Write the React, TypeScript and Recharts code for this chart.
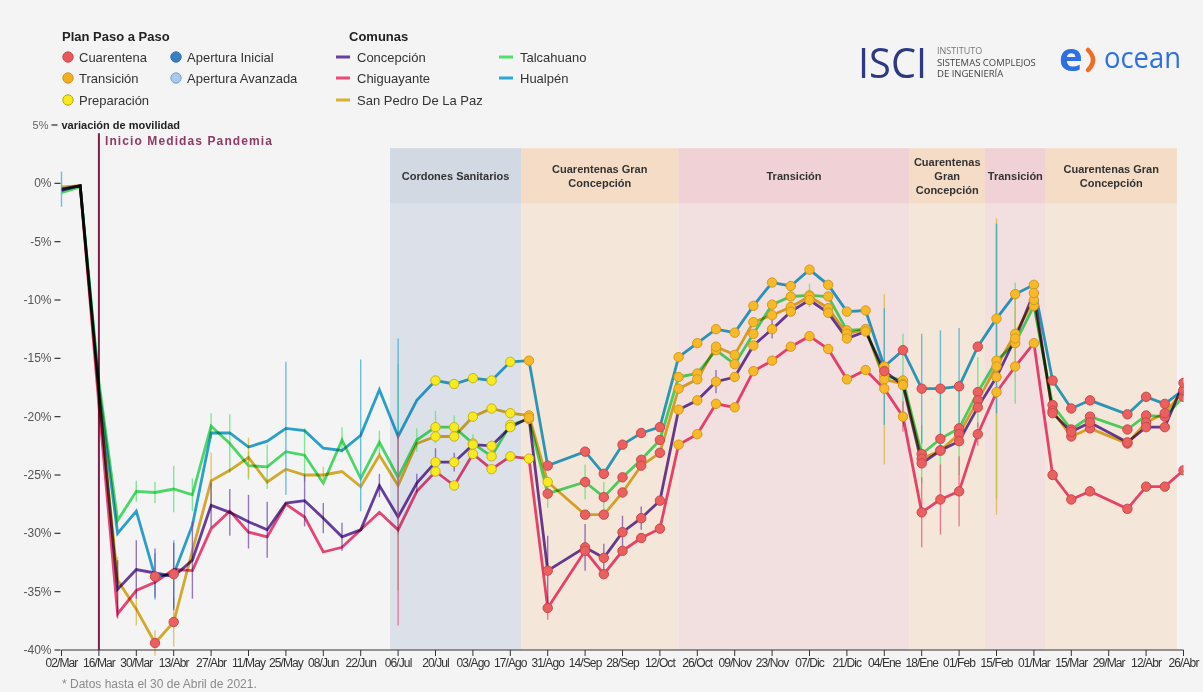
import React from "react";
import {
  ComposedChart,
  Line,
  XAxis,
  YAxis,
  ReferenceArea,
  ReferenceLine,
  ErrorBar,
} from "recharts";

const FONT = '"Liberation Sans", Arial, sans-serif';

// tick every two weeks, weekly data starting 02/Mar/2020 (day 0)
const tickLabels = [
  "02/Mar", "16/Mar", "30/Mar", "13/Abr", "27/Abr", "11/May", "25/May", "08/Jun",
  "22/Jun", "06/Jul", "20/Jul", "03/Ago", "17/Ago", "31/Ago", "14/Sep", "28/Sep",
  "12/Oct", "26/Oct", "09/Nov", "23/Nov", "07/Dic", "21/Dic", "04/Ene", "18/Ene",
  "01/Feb", "15/Feb", "01/Mar", "15/Mar", "29/Mar", "12/Abr", "26/Abr",
];
const yTicks = [5, 0, -5, -10, -15, -20, -25, -30, -35, -40];

// weekly mobility change (%) per comuna, null = week without data
const concepcion = [
  -0.6, -0.2, -18, -34.8, -33.1, -33.4, -33.7, -32.3, -27.6, -28.2, -29.0, -29.7, -27.4, -27.2, -28.7, -30.3, -29.7, -25.9,
  -28.6, -25.7, -23.9, -23.9, -22.4, -22.5, -20.9, -20.1,
  -33.2, null, -31.2, -32.1, -29.9, -28.7, -27.2,
  -19.4, -18.6, -17.0, -16.6, -13.9, -12.5, -11.0, -10.0, -11.1, -13.3, -12.7, -16.1, -17.3,
  -24.0, -22.9, -22.1, -19.2, -16.6, -13.3, -9.4, -19.7, -21.3, -20.5, null, -22.2, -20.9, -20.9, -17.1,
];
const chiguayante = [
  -0.5, -0.2, -19, -36.9, -34.9, -34.2, -33.1, -33.2, -29.6, -28.1, -29.9, -30.3, -27.5, -28.6, -31.6, -31.2, -29.7, -28.2,
  -29.7, -26.4, -24.7, -25.9, -23.2, -24.5, -23.4, -23.6,
  -36.4, null, -31.5, -33.5, -31.5, -30.4, -29.6,
  -22.4, -21.5, -18.9, -19.2, -16.1, -15.2, -14.0, -13.1, -14.2, -16.8, -16.0, -17.6, -20.0,
  -28.2, -27.1, -26.4, -21.5, -17.9, -15.7, -13.7, -25.0, -27.1, -26.4, null, -27.9, -26.0, -26.0, -24.6,
];
const sanPedro = [
  -0.3, -0.2, -18, -34.0, -36.5, -39.4, -37.6, -31.5, -25.5, -24.6, -23.5, -25.6, -24.5, -25.0, -25.0, -24.7, -26.0, -23.3,
  -25.9, -22.3, -21.7, -21.7, -20.0, -19.3, -19.7, -19.9,
  -25.6, null, -28.4, -28.4, -26.5, -24.2, -23.1,
  -17.6, -16.8, -14.0, -14.7, -11.9, -11.3, -10.6, -9.7, -10.7, -12.9, -12.5, -16.8, -17.2,
  -23.6, -22.9, -21.5, -18.6, -15.7, -12.9, -10.0, -19.5, -21.7, -21.0, null, -22.3, -20.5, -19.7, -17.8,
];
const talcahuano = [
  -0.8, -0.3, -17, -28.9, -26.4, -26.5, -26.2, -26.7, -20.8, -22.3, -24.2, -24.3, -23.0, -23.3, -25.7, -22.0, -25.3, -22.2,
  -25.2, -22.0, -20.9, -20.9, -22.3, -23.4, -20.7, -20.2,
  -26.6, null, -25.6, -26.9, -25.2, -23.7, -22.0,
  -16.6, -16.3, -14.3, -15.5, -12.9, -10.4, -9.7, -9.6, -9.7, -12.6, -12.5, -16.5, -16.9,
  -23.2, -21.9, -21.0, -17.9, -15.2, -13.7, -10.5, -19.0, -21.1, -20.0, null, -21.1, -19.9, -20.0, -18.3,
];
const hualpen = [
  -0.5, -0.2, -17.5, -30.0, -28.1, -33.7, -33.5, -29.3, -21.4, -21.4, -22.6, -22.1, -21.0, -21.2, -22.7, -22.9, -21.6, -17.7,
  -21.7, -18.6, -16.9, -17.2, -16.7, -16.9, -15.3, -15.2,
  -24.2, null, -23.0, -24.9, -22.4, -21.4, -20.9,
  -14.9, -13.7, -12.5, -12.8, -10.5, -8.5, -8.8, -7.4, -8.7, -11.0, -10.9, -15.7, -14.3,
  -17.6, -17.6, -17.4, -14.0, -11.6, -9.5, -8.7, -16.9, -19.3, -18.6, null, -19.8, -18.3, -18.9, -17.7,
];

// Plan Paso a Paso phase per week: c = cuarentena, t = transición, p = preparación
const faseConcepcion = "...................." + "ppppp" + "t" + "c" + "." + "ccccc" + "ttttttttttt" + "c" + "t" + "cccc" + "ttt" + "ccc" + "." + "cccc";
const faseChiguayante = "...................." + "pppppp" + "c" + "." + "ccccc" + "ttttttttttttt" + "cccc" + "ttt" + "ccc" + "." + "cccc";
const faseSanPedro = "....." + "cc" + "............." + "ppppp" + "t" + "p" + "." + "ccccc" + "ttttttttttttt" + "cccc" + "ttt" + "ccc" + "." + "cccc";
const faseTalcahuano = "...................." + "ppppp" + "t" + "c" + "." + "ccccc" + "ttttttttttttt" + "cccc" + "ttt" + "ccc" + "." + "cccc";
const faseHualpen = "....." + "cc" + "............." + "ppppp" + "t" + "c" + "." + "ccccc" + "tttttttttttt" + "c" + "cccc" + "ttt" + "ccc" + "." + "cccc";

// [week index, +/- error]
const errConcepcion = [[3, 2.5], [4, 2.5], [5, 2.1], [6, 2.9], [7, 3.3], [8, 1.9], [9, 2], [10, 2.3], [11, 2.4], [13, 2.2], [14, 1.3], [15, 1.2], [17, 1], [19, 0.8], [20, 1.2], [21, 0.8], [26, 3], [28, 2], [29, 1.2], [30, 1.4], [31, 1], [35, 1], [38, 0.8]];
const errChiguayante = [[18, 8.2], [26, 1], [45, 1.3], [46, 3], [47, 3], [48, 3], [49, 1]];
const errSanPedro = [[3, 2], [4, 1.4], [5, 1.1], [6, 2.1], [8, 2.4], [10, 1.7], [14, 0.7], [44, 7.3], [50, 12.7], [51, 3]];
const errTalcahuano = [[4, 0.9], [5, 0.9], [6, 2], [7, 1.4], [8, 1.1], [9, 2.5], [10, 1.2], [11, 1.9], [13, 2.3], [15, 1.1], [17, 1], [18, 9.7], [19, 1], [20, 1.4], [21, 1], [22, 0.8], [26, 1.2], [28, 1.5], [29, 1.3], [40, 1], [45, 4], [46, 2.5], [47, 4.5], [48, 4], [49, 3], [50, 11.8], [51, 5.2]];
const errHualpen = [[0, 1.5], [5, 2], [6, 2.9], [12, 5.7], [16, 6.5], [18, 8.4], [44, 5], [46, 4.7], [47, 5], [48, 5], [50, 8.1]];

// periods (days since 02/Mar/2020)
const bandFrom = [123, 172, 231, 317.4, 345.7, 368.4];
const bandTo = [172, 231, 317.4, 345.7, 368.4, 417.5];
const bandKind = ["cordon", "cuar", "trans", "cuar", "trans", "cuar"];
const bandText = [
  ["Cordones Sanitarios"],
  ["Cuarentenas Gran", "Concepción"],
  ["Transición"],
  ["Cuarentenas", "Gran", "Concepción"],
  ["Transición"],
  ["Cuarentenas Gran", "Concepción"],
];

const bandFill: Record<string, [string, string]> = {
  cordon: ["#DCE1E9", "#D2D9E3"],
  cuar: ["#F5E6DA", "#F5DCC7"],
  trans: ["#F2DFE0", "#F0D2D6"],
};

const phaseColor: Record<string, [string, string]> = {
  c: ["#EC5F5F", "#C94949"],
  t: ["#F7B927", "#D29A1A"],
  p: ["#F8EA1F", "#C4B31A"],
};

const series = [
  { key: "talc", name: "Talcahuano", values: talcahuano, fase: faseTalcahuano, err: errTalcahuano, color: "#4FE06C" },
  { key: "sp", name: "San Pedro De La Paz", values: sanPedro, fase: faseSanPedro, err: errSanPedro, color: "#DDB02E" },
  { key: "hual", name: "Hualpén", values: hualpen, fase: faseHualpen, err: errHualpen, color: "#2CA6D2" },
  { key: "conc", name: "Concepción", values: concepcion, fase: faseConcepcion, err: errConcepcion, color: "#6A3FA2" },
  { key: "chig", name: "Chiguayante", values: chiguayante, fase: faseChiguayante, err: errChiguayante, color: "#F0487A" },
];

const errAt = (list: number[][], i: number) => {
  const f = list.find((e) => e[0] === i);
  return f ? f[1] : 0;
};

const data = concepcion
  .map((_, i) => {
    const row: any = { i, d: i * 7 };
    series.forEach((s) => {
      row[s.key] = s.values[i];
      row[s.key + "E"] = errAt(s.err, i);
    });
    return row;
  })
  .filter((r) => r.conc !== null);

const makeDot = (fase: string, key: string) => (props: any) => {
  const { cx, cy, payload } = props;
  const k = `${key}-${payload.i}`;
  const c = phaseColor[fase[payload.i]];
  if (!c || cx == null || cy == null) return <g key={k} />;
  return <circle key={k} cx={cx} cy={cy} r={4.7} fill={c[0]} stroke={c[1]} strokeWidth={1} />;
};

// axis x position passed in as x (tickSize and tickMargin are 0)
const YTick = (props: any) => {
  const { x, y, payload } = props;
  const v = payload.value;
  if (v === 5) {
    return (
      <g>
        <text x={x - 13} y={y} dy={4} textAnchor="end" fontSize={11} fill="#666">5%</text>
        <line x1={x - 10} x2={x - 4} y1={y} y2={y} stroke="#222" strokeWidth={1.2} />
        <text x={x} y={y} dy={4} textAnchor="start" fontSize={11} fontWeight="bold" fill="#222">variación de movilidad</text>
      </g>
    );
  }
  return (
    <g>
      <text x={x - 10} y={y} dy={4} textAnchor="end" fontSize={12} fill="#555">{`${v}%`}</text>
      <line x1={x - 7} x2={x - 1} y1={y} y2={y} stroke="#333" strokeWidth={1.2} />
    </g>
  );
};

const bandLabel = (lines: string[]) => (p: any) => {
  const vb = p.viewBox;
  const cx = vb.x + vb.width / 2;
  const cy = vb.y + vb.height / 2;
  const start = cy - ((lines.length - 1) * 14) / 2;
  return (
    <text textAnchor="middle" fontSize={11} fontWeight="bold" fill="#333">
      {lines.map((l, j) => (
        <tspan key={j} x={cx} y={start + j * 14} dy={4}>{l}</tspan>
      ))}
    </text>
  );
};

const phaseLegend = [
  { label: "Cuarentena", fill: "#E9595B", stroke: "#D04A4C", x: 68, y: 57 },
  { label: "Transición", fill: "#F2AE22", stroke: "#D69618", x: 68, y: 78 },
  { label: "Preparación", fill: "#F6EA1C", stroke: "#B9A614", x: 68, y: 100 },
  { label: "Apertura Inicial", fill: "#3C7EC4", stroke: "#3170B2", x: 176, y: 57 },
  { label: "Apertura Avanzada", fill: "#A8C9EA", stroke: "#7DA3C9", x: 176, y: 78 },
];
const comunaLegend = [
  { label: "Concepción", color: "#6A3FA2", x: 336, y: 57 },
  { label: "Chiguayante", color: "#F0487A", x: 336, y: 78 },
  { label: "San Pedro De La Paz", color: "#DDB02E", x: 336, y: 100 },
  { label: "Talcahuano", color: "#4FE06C", x: 499, y: 57 },
  { label: "Hualpén", color: "#2CA6D2", x: 499, y: 78 },
];

export default function App() {
  return (
    <div style={{ position: "relative", width: 1203, height: 692, background: "#F4F4F4", fontFamily: FONT, overflow: "hidden" }}>
      <style>{`body{margin:0;background:#F4F4F4}.recharts-line-curve{mix-blend-mode:multiply}`}</style>
      <ComposedChart
        width={1203}
        height={692}
        data={data}
        margin={{ top: 125, right: 19.5, bottom: 12, left: 0 }}
        style={{ fontFamily: FONT }}
      >
        {bandFrom.map((f, j) => (
          <ReferenceArea key={`b${j}`} x1={f} x2={bandTo[j]} y1={-40} y2={3} fill={bandFill[bandKind[j]][0]} fillOpacity={1} stroke="none" ifOverflow="visible" />
        ))}
        {bandFrom.map((f, j) => (
          <ReferenceArea key={`h${j}`} x1={f} x2={bandTo[j]} y1={-1.7} y2={3} fill={bandFill[bandKind[j]][1]} fillOpacity={1} stroke="none" ifOverflow="visible" label={bandLabel(bandText[j])} />
        ))}
        <XAxis
          type="number"
          dataKey="d"
          domain={[0, 420]}
          ticks={tickLabels.map((_, j) => j * 14)}
          tickFormatter={(v: number) => tickLabels[Math.round(v / 14)]}
          interval={0}
          allowDataOverflow
          stroke="#333"
          tick={{ fontSize: 12, fill: "#333", letterSpacing: -0.9 }}
          tickSize={6}
          height={30}
        />
        <YAxis
          type="number"
          domain={[-40, 5]}
          ticks={yTicks}
          interval={0}
          allowDataOverflow
          width={61.5}
          axisLine={false}
          tickLine={false}
          tickSize={0}
          tickMargin={0}
          tick={YTick}
        />
        <ReferenceLine
          segment={[{ x: 14, y: 4.3 }, { x: 14, y: -40 }]}
          stroke="#7A1F48"
          strokeWidth={2}
          ifOverflow="visible"
        />
        {series.map((s) => (
          <Line
            key={s.key}
            type="linear"
            dataKey={s.key}
            name={s.name}
            stroke={s.color}
            strokeWidth={2.8}
            dot={makeDot(s.fase, s.key)}
            activeDot={false}
            isAnimationActive={false}
          >
            <ErrorBar dataKey={s.key + "E"} width={0} direction="y" stroke={s.color + "B0"} strokeWidth={1.4} isAnimationActive={false} />
          </Line>
        ))}
      </ComposedChart>

      <svg width={1203} height={692} style={{ position: "absolute", left: 0, top: 0, pointerEvents: "none", fontFamily: FONT }}>
        <text x={62} y={41} fontSize={13} fontWeight="bold" fill="#222">Plan Paso a Paso</text>
        {phaseLegend.map((p) => (
          <g key={p.label}>
            <circle cx={p.x} cy={p.y} r={5.2} fill={p.fill} stroke={p.stroke} strokeWidth={1} />
            <text x={p.x + 11} y={p.y + 4.5} fontSize={13} fill="#333">{p.label}</text>
          </g>
        ))}
        <text x={349} y={41} fontSize={13} fontWeight="bold" fill="#222">Comunas</text>
        {comunaLegend.map((c) => (
          <g key={c.label}>
            <line x1={c.x} x2={c.x + 14} y1={c.y} y2={c.y} stroke={c.color} strokeWidth={3} />
            <text x={c.x + 21} y={c.y + 4.5} fontSize={13} fill="#333">{c.label}</text>
          </g>
        ))}

        <text x={105} y={145} fontSize={12} fontWeight="bold" fill="#8E3B67" letterSpacing={1.1}>Inicio Medidas Pandemia</text>

        <text x={858} y={78} fontSize={42} fill="#2D3A82" textLength={69} lengthAdjust="spacingAndGlyphs" fontFamily='"Open Sans", sans-serif'>ISCI</text>
        <text x={937} y={54} fontSize={9} fill="#777" fontFamily='"Open Sans", sans-serif'>INSTITUTO</text>
        <text x={937} y={66} fontSize={9.5} fill="#444" fontFamily='"Open Sans", sans-serif'>SISTEMAS COMPLEJOS</text>
        <text x={937} y={77} fontSize={9.5} fill="#444" fontFamily='"Open Sans", sans-serif'>DE INGENIERÍA</text>

        <text x={1059} y={71} fontSize={40} fontWeight="bold" fill="#2F6FE6" fontFamily='"Open Sans", sans-serif'>e</text>
        <path d="M1088,50 Q1098,60 1088,70" fill="none" stroke="#F26B22" strokeWidth={4.5} strokeLinecap="round" />
        <text x={1104} y={68} fontSize={30} fill="#2F6FE6" textLength={77} lengthAdjust="spacingAndGlyphs" fontFamily='"Open Sans", sans-serif'>ocean</text>

        <text x={62} y={688} fontSize={12} fill="#8A8A8A">* Datos hasta el 30 de Abril de 2021.</text>
      </svg>
    </div>
  );
}
